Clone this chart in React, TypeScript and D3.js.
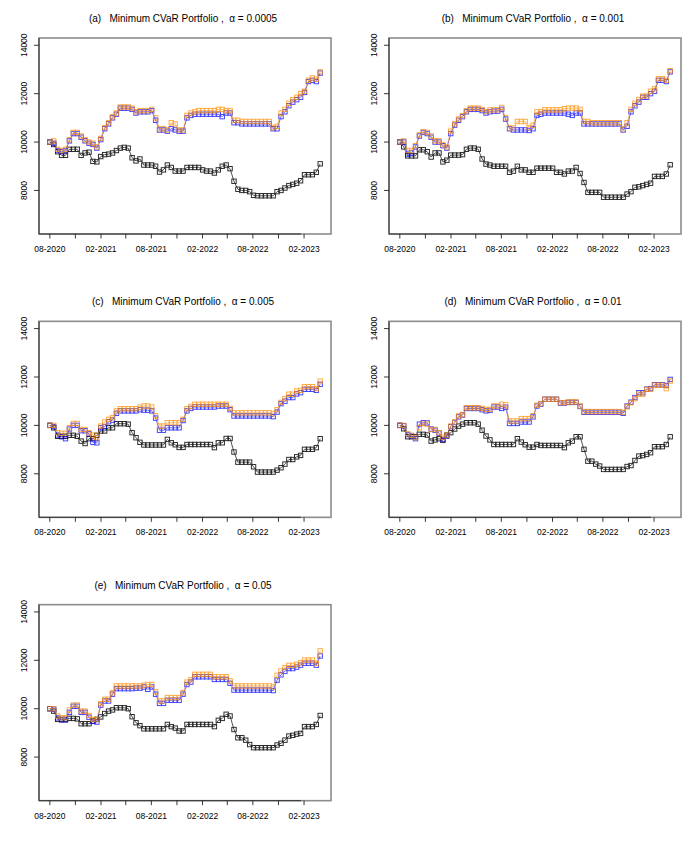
import React, { useRef, useEffect } from 'react';
import * as d3 from 'd3';

// first and last observation of the backtest
const START = new Date(2020, 7, 1);
const END = new Date(2023, 2, 31);
const N_POINTS = 70;

const yTicks = [8000, 10000, 12000, 14000];
const panelLabels = ['(a)', '(b)', '(c)', '(d)', '(e)'];
const alphaLabels = ['0.0005', '0.001', '0.005', '0.01', '0.05'];

// black = benchmark, blue / orange = the two CVaR portfolios
const blackA = [10000, 9900, 9600, 9450, 9450, 9700, 9700, 9700, 9450, 9550,
  9580, 9200, 9180, 9400, 9480, 9500, 9550, 9650, 9750, 9780,
  9750, 9350, 9220, 9300, 9050, 9050, 9050, 9000, 8760, 8850,
  9050, 8950, 8800, 8800, 8800, 8950, 8950, 8950, 8950, 8850,
  8800, 8800, 8720, 8850, 9000, 9050, 8900, 8380, 8050, 8000,
  8000, 7950, 7800, 7780, 7780, 7780, 7780, 7780, 7950, 8000,
  8100, 8200, 8250, 8300, 8400, 8650, 8650, 8650, 8750, 9100];
const blueA = [10000, 9950, 9650, 9600, 9650, 10050, 10350, 10350, 10200, 10050,
  9950, 9900, 9750, 10100, 10550, 10750, 11000, 11150, 11400, 11400,
  11400, 11350, 11200, 11250, 11250, 11250, 11300, 10900, 10500, 10500,
  10450, 10550, 10500, 10450, 10450, 11000, 11100, 11150, 11150, 11150,
  11150, 11150, 11150, 11150, 11050, 11200, 11200, 10800, 10800, 10750,
  10750, 10750, 10750, 10750, 10750, 10750, 10750, 10550, 10550, 11050,
  11250, 11500, 11650, 11750, 11850, 12050, 12500, 12550, 12500, 12850];
const orangeA = [10000, 10050, 9700, 9650, 9700, 10100, 10400, 10400, 10250, 10100,
  10000, 9950, 9800, 10150, 10600, 10800, 11050, 11200, 11450, 11450,
  11450, 11400, 11250, 11300, 11300, 11300, 11350, 11000, 10550, 10550,
  10500, 10800, 10750, 10500, 10500, 11100, 11200, 11250, 11300, 11300,
  11300, 11300, 11300, 11350, 11350, 11300, 11300, 10900, 10900, 10850,
  10850, 10850, 10850, 10850, 10850, 10850, 10850, 10600, 10650, 11200,
  11350, 11600, 11750, 11850, 12000, 12100, 12550, 12650, 12600, 12900];

const blackB = [10000, 9800, 9430, 9430, 9430, 9680, 9680, 9600, 9380, 9550,
  9550, 9180, 9250, 9460, 9460, 9460, 9480, 9700, 9750, 9750,
  9700, 9300, 9090, 9050, 9000, 9000, 9000, 9000, 8750, 8800,
  9000, 8850, 8850, 8750, 8750, 8920, 8920, 8920, 8920, 8920,
  8750, 8750, 8680, 8800, 8800, 8950, 8700, 8330, 7920, 7920,
  7920, 7920, 7720, 7720, 7720, 7720, 7720, 7720, 7850, 7950,
  8130, 8150, 8200, 8250, 8300, 8580, 8580, 8580, 8680, 9060];
const blueB = [10000, 10000, 9500, 9550, 9800, 10250, 10400, 10350, 10200, 10000,
  10000, 9850, 9750, 10350, 10700, 10900, 11050, 11250, 11350, 11350,
  11350, 11300, 11200, 11250, 11280, 11280, 11350, 10950, 10550, 10500,
  10500, 10500, 10500, 10480, 10550, 11100, 11150, 11200, 11200, 11200,
  11200, 11200, 11200, 11150, 11100, 11200, 11200, 10750, 10750, 10750,
  10750, 10750, 10750, 10750, 10750, 10750, 10750, 10500, 10650, 11250,
  11500, 11650, 11850, 11850, 12000, 12100, 12550, 12550, 12500, 12900];
const orangeB = [10000, 10050, 9650, 9650, 9850, 10300, 10430, 10400, 10250, 10050,
  10050, 9900, 9800, 10450, 10750, 10950, 11090, 11300, 11400, 11400,
  11400, 11350, 11260, 11330, 11330, 11330, 11430, 11000, 10580, 10580,
  10850, 10850, 10850, 10600, 10700, 11250, 11250, 11330, 11330, 11330,
  11330, 11330, 11380, 11400, 11400, 11400, 11350, 10850, 10850, 10800,
  10800, 10800, 10800, 10800, 10800, 10800, 10800, 10550, 10800, 11350,
  11600, 11750, 11900, 11900, 12100, 12200, 12620, 12620, 12550, 12950];

const blackC = [10000, 9900, 9550, 9550, 9550, 9590, 9590, 9550, 9350, 9250,
  9450, 9450, 9590, 9770, 9770, 9900, 9900, 10070, 10070, 10070,
  10050, 9700, 9490, 9300, 9190, 9190, 9190, 9190, 9190, 9190,
  9420, 9280, 9200, 9090, 9090, 9210, 9210, 9210, 9210, 9210,
  9210, 9210, 9080, 9280, 9280, 9460, 9460, 8900, 8480, 8480,
  8480, 8480, 8290, 8070, 8070, 8070, 8070, 8070, 8150, 8250,
  8400, 8590, 8590, 8700, 8760, 9010, 9010, 9010, 9080, 9450];
const blueC = [10000, 9950, 9600, 9530, 9450, 9850, 10000, 10000, 9780, 9780,
  9650, 9300, 9280, 9900, 9950, 10150, 10220, 10500, 10600, 10600,
  10600, 10600, 10600, 10650, 10630, 10630, 10600, 10300, 9800, 9800,
  9900, 9900, 9900, 9900, 10200, 10600, 10700, 10760, 10760, 10760,
  10760, 10760, 10760, 10800, 10800, 10800, 10650, 10390, 10390, 10390,
  10390, 10390, 10390, 10390, 10390, 10390, 10390, 10360, 10550, 10900,
  11000, 11150, 11150, 11300, 11350, 11490, 11490, 11490, 11450, 11700];
const orangeC = [10000, 10000, 9700, 9670, 9670, 9900, 10080, 10080, 9830, 9830,
  9700, 9600, 9490, 9970, 10140, 10250, 10320, 10600, 10690, 10690,
  10690, 10690, 10690, 10750, 10800, 10800, 10760, 10400, 9970, 9970,
  10110, 10110, 10110, 10110, 10250, 10690, 10780, 10870, 10870, 10870,
  10870, 10870, 10870, 10870, 10870, 10870, 10700, 10520, 10520, 10520,
  10520, 10520, 10520, 10520, 10520, 10520, 10520, 10480, 10650, 10950,
  11100, 11290, 11290, 11420, 11450, 11600, 11600, 11600, 11520, 11830];

const blackD = [10000, 9860, 9530, 9530, 9530, 9630, 9630, 9600, 9350, 9400,
  9450, 9380, 9600, 9700, 9850, 9970, 10050, 10110, 10110, 10110,
  10050, 9800, 9560, 9400, 9210, 9210, 9210, 9210, 9210, 9210,
  9450, 9310, 9200, 9100, 9100, 9210, 9170, 9170, 9170, 9170,
  9170, 9170, 9080, 9280, 9350, 9530, 9530, 9010, 8520, 8520,
  8400, 8320, 8180, 8180, 8180, 8180, 8180, 8180, 8300, 8340,
  8550, 8730, 8750, 8800, 8870, 9120, 9120, 9120, 9210, 9530];
const blueD = [10000, 9980, 9620, 9560, 9450, 10050, 10110, 10100, 9850, 9800,
  9680, 9420, 9550, 9950, 10120, 10350, 10430, 10700, 10700, 10700,
  10700, 10650, 10600, 10620, 10760, 10760, 10700, 10750, 10080, 10080,
  10080, 10140, 10140, 10140, 10350, 10800, 10880, 11080, 11080, 11080,
  11080, 10920, 10920, 10950, 10950, 10950, 10780, 10540, 10540, 10540,
  10540, 10540, 10540, 10540, 10540, 10540, 10540, 10500, 10800, 10960,
  11150, 11350, 11350, 11500, 11520, 11680, 11680, 11680, 11650, 11900];
const orangeD = [10000, 10000, 9650, 9590, 9490, 9900, 10080, 10050, 9830, 9830,
  9700, 9500, 9600, 9970, 10140, 10390, 10450, 10730, 10730, 10730,
  10730, 10700, 10660, 10660, 10800, 10800, 10870, 10850, 10180, 10180,
  10180, 10280, 10280, 10280, 10400, 10830, 10900, 11080, 11080, 11080,
  11080, 10940, 10940, 10970, 10970, 10970, 10800, 10570, 10570, 10570,
  10570, 10570, 10570, 10570, 10570, 10570, 10570, 10540, 10770, 10940,
  11100, 11290, 11290, 11490, 11490, 11660, 11660, 11660, 11520, 11830];

const blackE = [10000, 9900, 9560, 9560, 9560, 9600, 9600, 9580, 9380, 9380,
  9380, 9490, 9560, 9660, 9800, 9900, 9950, 10040, 10040, 10040,
  10000, 9670, 9420, 9300, 9170, 9170, 9170, 9170, 9170, 9170,
  9350, 9260, 9200, 9080, 9080, 9350, 9350, 9350, 9350, 9350,
  9350, 9350, 9260, 9520, 9600, 9770, 9700, 9140, 8800, 8800,
  8700, 8520, 8390, 8390, 8390, 8390, 8390, 8390, 8500, 8570,
  8700, 8870, 8900, 8950, 8980, 9260, 9260, 9260, 9350, 9720];
const blueE = [10000, 9980, 9620, 9530, 9530, 9850, 10100, 10100, 9850, 9850,
  9650, 9480, 9450, 10150, 10320, 10320, 10600, 10830, 10830, 10830,
  10830, 10830, 10850, 10850, 10900, 10800, 10900, 10600, 10220, 10220,
  10350, 10350, 10350, 10350, 10600, 11000, 11100, 11320, 11320, 11320,
  11320, 11320, 11210, 11210, 11210, 11210, 11050, 10770, 10770, 10770,
  10770, 10770, 10770, 10770, 10770, 10770, 10770, 10750, 11180, 11400,
  11550, 11660, 11660, 11720, 11800, 11880, 11880, 11880, 11800, 12180];
const orangeE = [10000, 10000, 9700, 9630, 9630, 9950, 10150, 10150, 9900, 9900,
  9720, 9560, 9560, 10210, 10390, 10390, 10660, 10940, 10940, 10940,
  10940, 10940, 10940, 10940, 10970, 11000, 11000, 10700, 10320, 10320,
  10460, 10460, 10460, 10460, 10660, 11100, 11200, 11420, 11420, 11420,
  11420, 11420, 11320, 11320, 11320, 11320, 11150, 10940, 10940, 10940,
  10940, 10940, 10940, 10940, 10940, 10940, 10940, 10900, 11380, 11560,
  11700, 11790, 11790, 11830, 11900, 12010, 12010, 12010, 11880, 12390];

const blacks = [blackA, blackB, blackC, blackD, blackE];
const blues = [blueA, blueB, blueC, blueD, blueE];
const oranges = [orangeA, orangeB, orangeC, orangeD, orangeE];

const FONT = '"Liberation Sans", Arial, Helvetica, sans-serif';

export default function App() {
  const ref = useRef<SVGSVGElement>(null);

  useEffect(() => {
    if (!ref.current) return;
    const svg = d3.select(ref.current);
    svg.selectAll('*').remove();

    const cellW = 350;
    const cellH = 850 / 3;
    const box = { left: 39, right: 331, top: 38, bottom: 234 };

    const dates = d3.range(N_POINTS).map(i => new Date(+START + (i * (+END - +START)) / (N_POINTS - 1)));
    const span = +END - +START;
    // R style: 4% padding on each side of the data range
    const x = d3.scaleTime()
      .domain([new Date(+START - span * 0.04), new Date(+END + span * 0.04)])
      .range([box.left, box.right]);
    const y = d3.scaleLinear().domain([6200, 14300]).range([box.bottom, box.top]);

    // quarterly ticks from 08-2020, labelled every other one
    const xTicks = d3.timeMonth.range(new Date(2020, 7, 1), new Date(2023, 2, 2), 3);
    const fmt = d3.timeFormat('%m-%Y');

    const series = [
      { key: 'black', color: '#000000', data: blacks, opacity: 0.85 },
      { key: 'blue', color: '#0000ff', data: blues, opacity: 0.75 },
      { key: 'orange', color: '#ff8c00', data: oranges, opacity: 0.75 },
    ];

    const line = d3.line<number>()
      .x((_, i) => x(dates[i]))
      .y(d => y(d));

    panelLabels.forEach((lab, k) => {
      const g = svg.append('g')
        .attr('transform', `translate(${(k % 2) * cellW},${Math.floor(k / 2) * cellH})`);

      // title
      g.append('text')
        .attr('x', (box.left + box.right) / 2 - 2)
        .attr('y', 22)
        .attr('text-anchor', 'middle')
        .style('font-family', FONT)
        .style('font-size', '10px')
        .style('white-space', 'pre')
        .text(`${lab}   Minimum CVaR Portfolio ,  \u03b1 = ${alphaLabels[k]}`);

      // plot box
      g.append('rect')
        .attr('x', box.left)
        .attr('y', box.top)
        .attr('width', box.right - box.left)
        .attr('height', box.bottom - box.top)
        .attr('fill', 'none')
        .attr('stroke', '#8c8c8c')
        .attr('stroke-width', 1.6);

      // x axis
      g.append('line')
        .attr('x1', box.left).attr('x2', box.right - 30)
        .attr('y1', box.bottom).attr('y2', box.bottom)
        .attr('stroke', '#333').attr('stroke-width', 1);
      xTicks.forEach((t, i) => {
        g.append('line')
          .attr('x1', x(t)).attr('x2', x(t))
          .attr('y1', box.bottom).attr('y2', box.bottom + 4.5)
          .attr('stroke', '#222').attr('stroke-width', 0.9);
        if (i % 2 === 0) {
          g.append('text')
            .attr('x', x(t))
            .attr('y', box.bottom + 18)
            .attr('text-anchor', 'middle')
            .style('font-family', FONT)
            .style('font-size', '8.5px')
            .text(fmt(t));
        }
      });

      // y axis
      g.append('line')
        .attr('x1', box.left).attr('x2', box.left)
        .attr('y1', box.top).attr('y2', box.bottom)
        .attr('stroke', '#333').attr('stroke-width', 1);
      yTicks.forEach(v => {
        g.append('line')
          .attr('x1', box.left - 5).attr('x2', box.left)
          .attr('y1', y(v)).attr('y2', y(v))
          .attr('stroke', '#222').attr('stroke-width', 0.9);
        g.append('text')
          .attr('transform', `translate(${box.left - 12},${y(v)}) rotate(-90)`)
          .attr('text-anchor', 'middle')
          .style('font-family', FONT)
          .style('font-size', '8.5px')
          .text(v);
      });

      // series: thin connecting line + open squares
      series.forEach(s => {
        const vals = s.data[k];
        const sg = g.append('g').attr('opacity', s.opacity);
        sg.append('path')
          .datum(vals)
          .attr('d', line)
          .attr('fill', 'none')
          .attr('stroke', s.color)
          .attr('stroke-width', 0.8);
        sg.selectAll('rect')
          .data(vals)
          .enter()
          .append('rect')
          .attr('x', (_, i) => x(dates[i]) - 2.2)
          .attr('y', d => y(d) - 2.2)
          .attr('width', 4.4)
          .attr('height', 4.4)
          .attr('fill', 'none')
          .attr('stroke', s.color)
          .attr('stroke-width', 0.95);
      });
    });
  }, []);

  return (
    <svg
      ref={ref}
      width={700}
      height={850}
      style={{ position: 'absolute', left: 0, top: 0, background: '#fff' }}
    />
  );
}
